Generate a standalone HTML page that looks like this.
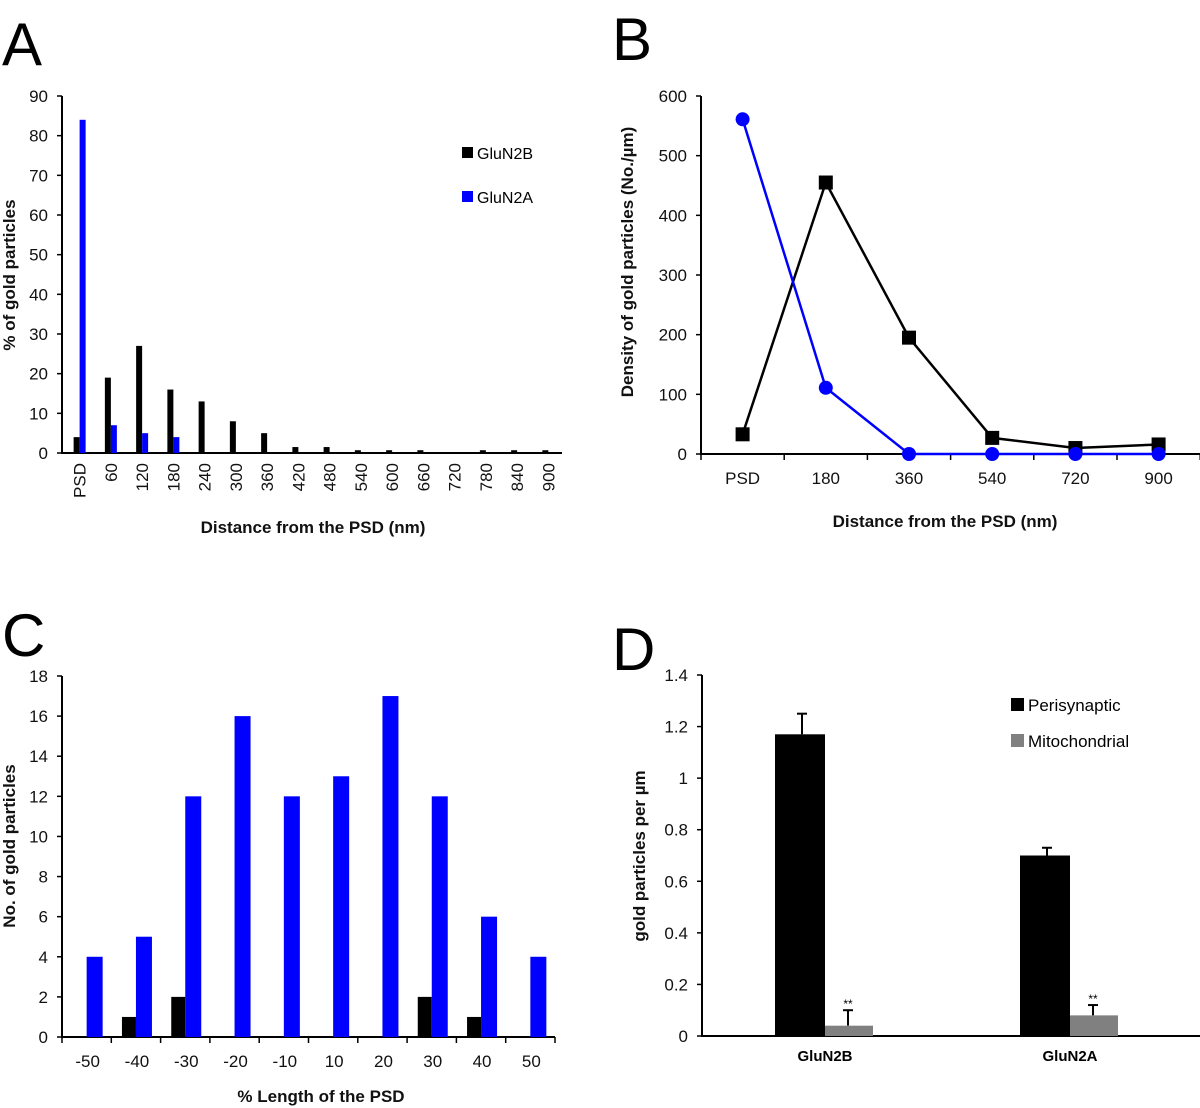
<!DOCTYPE html>
<html><head><meta charset="utf-8"><style>
body{margin:0;background:#fff;}
svg{display:block;font-family:"Liberation Sans",sans-serif;}
.tk{font-size:17px;fill:#111;}
.ttl{font-size:17px;font-weight:bold;fill:#111;}
.lt{font-size:60px;fill:#000;}
</style></head><body>
<svg id="s" width="1200" height="1108" viewBox="0 0 1200 1108">
<text class="lt" x="2" y="65">A</text>
<text class="lt" x="612" y="60">B</text>
<text class="lt" x="2" y="656">C</text>
<text class="lt" x="612" y="670">D</text>
</svg>
<script>
const aCats=["PSD","60","120","180","240","300","360","420","480","540","600","660","720","780","840","900"];
const aN2B=[4,19,27,16,13,8,5,1.5,1.5,0.7,0.7,0.7,0,0.7,0.7,0.7];
const aN2A=[84,7,5,4,0,0,0,0,0,0,0,0,0,0,0,0];
const aTicks=[0,10,20,30,40,50,60,70,80,90];
const bCats=["PSD","180","360","540","720","900"];
const bN2B=[33,455,195,27,10,16];
const bN2A=[561,111,0,0,0,0];
const bTicks=[0,100,200,300,400,500,600];
const cCats=["-50","-40","-30","-20","-10","10","20","30","40","50"];
const cN2B=[0,1,2,0,0,0,0,2,1,0];
const cN2A=[4,5,12,16,12,13,17,12,6,4];
const cTicks=[0,2,4,6,8,10,12,14,16,18];
const dCats=["GluN2B","GluN2A"];
const dPeri=[1.17,0.70];
const dPeriErr=[0.08,0.03];
const dMito=[0.04,0.08];
const dMitoErr=[0.06,0.04];
const dTicks=["0","0.2","0.4","0.6","0.8","1","1.2","1.4"];

const S=document.getElementById('s');const NS='http://www.w3.org/2000/svg';
function mk(t,a,txt){const e=document.createElementNS(NS,t);for(const k in a)e.setAttribute(k,a[k]);if(txt!==undefined)e.textContent=txt;S.appendChild(e);return e;}
function line(x1,y1,x2,y2,c,w){return mk('line',{x1,y1,x2,y2,stroke:c||'#000','stroke-width':w||2});}

// Panel A
(function(){
const x0=62,x1=562,yb=453,yt=96,max=90;
const n=aCats.length,bw=(x1-x0)/n;
const y=v=>yb-(yb-yt)*v/max, xc=i=>x0+bw*(i+0.5)+2;
line(x0,yt,x0,yb+1);line(x0,yb,x1,yb);
aTicks.forEach(t=>{line(x0-5,y(t),x0,y(t),'#000',1.5);const e=mk('text',{class:'tk',x:x0-14,y:y(t)+6,'text-anchor':'end'},t);
});
aCats.forEach((c,i)=>{
const b=mk('rect',{x:xc(i)-6,y:y(aN2B[i]),width:6,height:yb-y(aN2B[i]),fill:'#000'});

const r=mk('rect',{x:xc(i),y:y(aN2A[i]),width:6,height:yb-y(aN2A[i]),fill:'#0000ff'});

const e=mk('text',{class:'tk',transform:`translate(${xc(i)+6},${yb+10}) rotate(-90)`,'text-anchor':'end'},c);
});
let e=mk('text',{class:'ttl',transform:'translate(15,275) rotate(-90)','text-anchor':'middle'},'% of gold particles');

e=mk('text',{class:'ttl',x:313,y:533,'text-anchor':'middle'},'Distance from the PSD (nm)');

e=mk('rect',{x:462,y:147,width:11,height:11,fill:'#000'});
e=mk('text',{x:477,y:159,'font-size':16},'GluN2B');
e=mk('rect',{x:462,y:191,width:11,height:11,fill:'#0000ff'});
e=mk('text',{x:477,y:203,'font-size':16},'GluN2A');
})();

// Panel B
(function(){
const x0=701,x1=1200,yb=454,yt=96,max=600,bw=83.2;
const y=v=>yb-(yb-yt)*v/max, xc=i=>x0+bw*(i+0.5);
line(x0,yt,x0,yb+1);line(x0,yb,x1,yb);
bTicks.forEach(t=>{line(x0-5,y(t),x0,y(t),'#000',1.5);const e=mk('text',{class:'tk',x:x0-14,y:y(t)+6,'text-anchor':'end'},t);
});
for(let i=0;i<=bCats.length;i++)line(x0+bw*i,yb,x0+bw*i,yb+6,'#000',1.5);
bCats.forEach((c,i)=>{const e=mk('text',{class:'tk',x:xc(i),y:yb+30,'text-anchor':'middle'},c);
});
let p=mk('polyline',{points:bN2B.map((v,i)=>xc(i)+','+y(v)).join(' '),fill:'none',stroke:'#000','stroke-width':2.5});

p=mk('polyline',{points:bN2A.map((v,i)=>xc(i)+','+y(v)).join(' '),fill:'none',stroke:'#0000ff','stroke-width':2.5});

bN2B.forEach((v,i)=>{const e=mk('rect',{x:xc(i)-7,y:y(v)-7,width:14,height:14,fill:'#000'});
});
bN2A.forEach((v,i)=>{const e=mk('circle',{cx:xc(i),cy:y(v),r:7,fill:'#0000ff'});
});
let e=mk('text',{class:'ttl',transform:'translate(633,262) rotate(-90)','text-anchor':'middle'},'Density of gold particles (No./\u00b5m)');

e=mk('text',{class:'ttl',x:945,y:527,'text-anchor':'middle'},'Distance from the PSD (nm)');

})();

// Panel C
(function(){
const x0=62,x1=555,yb=1037,yt=676,max=18;
const bw=(x1-x0)/cCats.length;
const y=v=>yb-(yb-yt)*v/max, xc=i=>x0+bw*(i+0.5);
line(x0,yt,x0,yb+1);line(x0,yb,x1,yb);
cTicks.forEach(t=>{line(x0-5,y(t),x0,y(t),'#000',1.5);const e=mk('text',{class:'tk',x:x0-14,y:y(t)+6,'text-anchor':'end'},t);
});
for(let i=0;i<=cCats.length;i++)line(x0+bw*i,yb,x0+bw*i,yb+6,'#000',1.5);
cCats.forEach((c,i)=>{
const b=mk('rect',{x:xc(i)-14,y:y(cN2B[i]),width:14,height:yb-y(cN2B[i]),fill:'#000'});

const r=mk('rect',{x:xc(i),y:y(cN2A[i]),width:16,height:yb-y(cN2A[i]),fill:'#0000ff'});

const e=mk('text',{class:'tk',x:xc(i)+1,y:yb+30,'text-anchor':'middle'},c);
});
let e=mk('text',{class:'ttl',transform:'translate(15,846) rotate(-90)','text-anchor':'middle'},'No. of gold particles');

e=mk('text',{class:'ttl',x:321,y:1102,'text-anchor':'middle'},'% Length of the PSD');

})();

// Panel D
(function(){
const x0=702,x1=1200,yb=1036,yt=675,max=1.4;
const y=v=>yb-(yb-yt)*v/max;
const cx=[824,1069];
line(x0,yt,x0,yb+1);line(x0,yb,x1,yb);
dTicks.forEach(t=>{const v=parseFloat(t);line(x0-5,y(v),x0,y(v),'#000',1.5);const e=mk('text',{class:'tk',x:x0-14,y:y(v)+6,'text-anchor':'end'},t);
});
dCats.forEach((c,i)=>{
line(cx[i]-22,y(dPeri[i]),cx[i]-22,y(dPeri[i]+dPeriErr[i]),'#000',2);line(cx[i]-27,y(dPeri[i]+dPeriErr[i]),cx[i]-17,y(dPeri[i]+dPeriErr[i]),'#000',2);
const b=mk('rect',{x:cx[i]-49,y:y(dPeri[i]),width:50,height:yb-y(dPeri[i]),fill:'#000'});

line(cx[i]+24,y(dMito[i]),cx[i]+24,y(dMito[i]+dMitoErr[i]),'#000',2);line(cx[i]+19,y(dMito[i]+dMitoErr[i]),cx[i]+29,y(dMito[i]+dMitoErr[i]),'#000',2);
const g=mk('rect',{x:cx[i]+1,y:y(dMito[i]),width:48,height:yb-y(dMito[i]),fill:'#808080'});

const s=mk('text',{x:cx[i]+24,y:y(dMito[i]+dMitoErr[i])-2,'font-size':12,'text-anchor':'middle'},'**');

const e=mk('text',{x:cx[i]+1,y:yb+25,'font-size':15,'font-weight':'bold','text-anchor':'middle'},c);
});
let e=mk('text',{class:'ttl',transform:'translate(645,856) rotate(-90)','text-anchor':'middle','font-size':16},'gold particles per \u00b5m');

e=mk('rect',{x:1011,y:698,width:13,height:13,fill:'#000'});
e=mk('text',{x:1028,y:711,'font-size':17},'Perisynaptic');
e=mk('rect',{x:1011,y:734,width:13,height:13,fill:'#808080'});
e=mk('text',{x:1028,y:747,'font-size':17},'Mitochondrial');
})();
</script>
</body></html>
